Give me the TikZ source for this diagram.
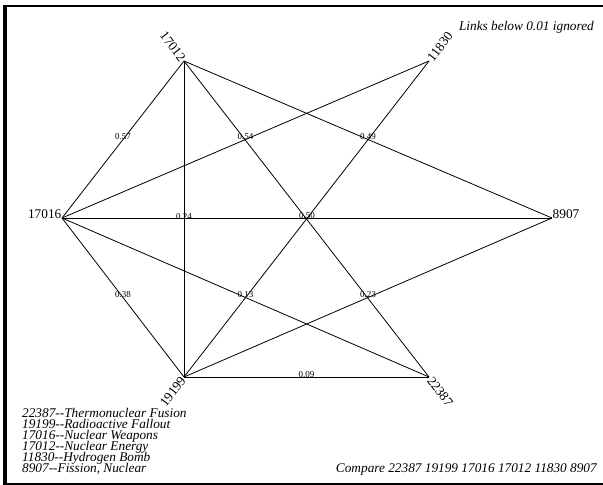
\documentclass[tikz,border=0pt]{standalone}
\usepackage{fontspec}
\setmainfont[Ligatures=NoCommon]{Liberation Serif}
\begin{document}
\begin{tikzpicture}[x=1pt,y=-1pt,
  lab/.style={font=\fontsize{13.3}{13.3}\selectfont, inner sep=1.5pt},
  wl/.style={font=\fontsize{9}{9}\selectfont, inner sep=0pt, anchor=base},
  edge/.style={line width=0.8pt, black},
  note/.style={font=\itshape\fontsize{13.3}{13.3}\selectfont, inner sep=0pt}]
\useasboundingbox (0,0) rectangle (603,485);
% frame
\draw[line width=2pt] (3.3,5.7) -- (603,5.7);
\draw[line width=2pt] (3.3,483.5) -- (603,483.5);
\draw[line width=4pt] (5.3,4.7) -- (5.3,484.5);
% vertices
\coordinate (n17012) at (184,61);
\coordinate (n11830) at (429,61);
\coordinate (n17016) at (62,218);
\coordinate (n8907) at (552,218);
\coordinate (n19199) at (184,377);
\coordinate (n22387) at (429,377);
% edge labels first (lines drawn over them)
\path (n17016) -- node[wl] (w1) {0.57} (n17012);
\path (n17012) -- node[wl] (w2) {0.24} (n19199);
\path (n17012) -- node[wl] (w3) {0.49} (n8907);
\path (n11830) -- node[wl] (w4) {0.54} (n17016);
\path (n17016) -- node[wl] (w5) {0.50} (n8907);
\path (n17016) -- node[wl] (w6) {0.38} (n19199);
\path (n17016) -- node[wl] (w7) {0.13} (n22387);
\path (n8907) -- node[wl] (w8) {0.23} (n19199);
\path (n19199) -- node[wl] (w9) {0.09} (n22387);
% edges
\draw[edge] (n17012) -- (n17016);
\draw[edge] (n17012) -- (n19199);
\draw[edge] (n17012) -- (n22387);
\draw[edge] (n17012) -- (n8907);
\draw[edge] (n11830) -- (n17016);
\draw[edge] (n11830) -- (n19199);
\draw[edge] (n17016) -- (n8907);
\draw[edge] (n17016) -- (n19199);
\draw[edge] (n17016) -- (n22387);
\draw[edge] (n8907) -- (n19199);
\draw[edge] (n19199) -- (n22387);
% vertex labels
\node[lab, rotate=-52.5, anchor=east] (l17012) at (n17012) {17012};
\node[lab, rotate=52.5, anchor=west] (l11830) at (n11830) {11830};
\node[lab, anchor=base east, inner sep=0.5pt] (l17016) at (n17016) {17016};
\node[lab, anchor=base west, inner sep=0.5pt] (l8907) at (n8907) {8907};
\node[lab, rotate=52.5, anchor=east] (l19199) at (n19199) {19199};
\node[lab, rotate=-52.5, anchor=west] (l22387) at (n22387) {22387};
% notes
\node[note, anchor=base east] (links) at (594,30) {Links below 0.01 ignored};
\node[note, anchor=base east] (compare) at (597,472.5) {Compare 22387 19199 17016 17012 11830 8907};
\node[note, anchor=base west] (leg1) at (22,417.7) {22387-{}-Thermonuclear Fusion};
\node[note, anchor=base west] (leg2) at (22,428.7) {19199-{}-Radioactive Fallout};
\node[note, anchor=base west] (leg3) at (22,439.7) {17016-{}-Nuclear Weapons};
\node[note, anchor=base west] (leg4) at (22,450.7) {17012-{}-Nuclear Energy};
\node[note, anchor=base west] (leg5) at (22,461.7) {11830-{}-Hydrogen Bomb};
\node[note, anchor=base west] (leg6) at (22,472.7) {8907-{}-Fission, Nuclear};
\end{tikzpicture}
\end{document}
